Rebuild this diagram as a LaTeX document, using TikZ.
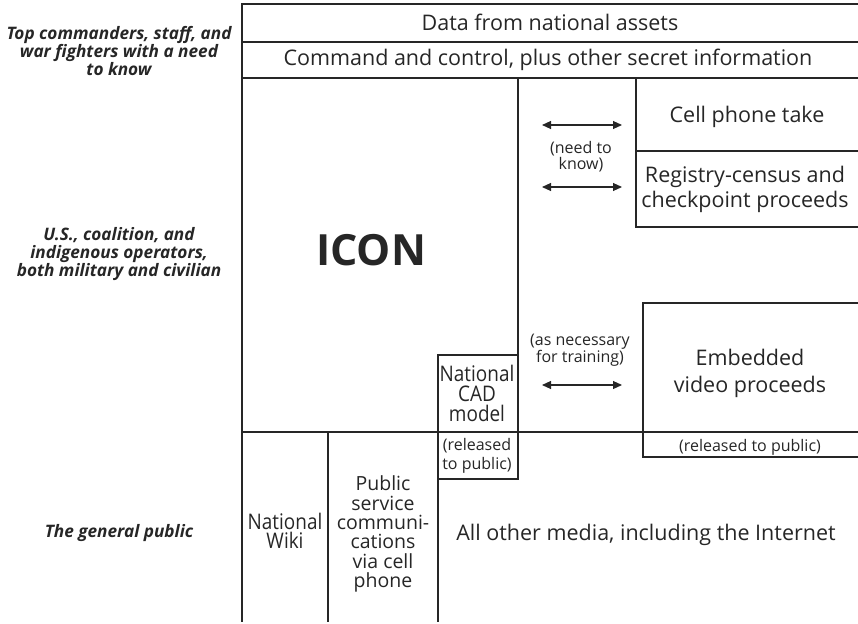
\documentclass[tikz,border=0pt]{standalone}
\usepackage{fontspec}
\setmainfont{Open Sans}
\newfontfamily\narrowfont[FakeStretch=0.88]{Open Sans}
\usetikzlibrary{arrows.meta}
\newcommand{\fs}[2]{\fontsize{#1}{#2}\selectfont\lineskiplimit=-20pt }
\tikzset{
  ln/.style={line width=1.1pt, black!85},
  lbl/.style={font=\fs{21.5}{19.5}, align=center, inner sep=0pt, text=black!85},
  sml/.style={font=\fs{16}{16}, align=center, inner sep=0pt, text=black!85},
  side/.style={font=\fs{17.2}{18}\bfseries\itshape, align=center, inner sep=0pt, text=black!85},
  dbl/.style={line width=1.1pt, black!85, {Triangle[length=9pt,width=8pt]}-{Triangle[length=9pt,width=8pt]}}
}
\begin{document}
\begin{tikzpicture}[x=1pt,y=-1pt]
\useasboundingbox (0,0) rectangle (858,623);
% frame lines
\draw[ln] (858,4) -- (242,4) -- (242,622);
\draw[ln] (242,42) -- (858,42);
\draw[ln] (242,78) -- (858,78);
\draw[ln] (518,78) -- (518,479) -- (438,479);
\draw[ln] (636,78) -- (636,227) -- (858,227);
\draw[ln] (636,151) -- (858,151);
\draw[ln] (858,303) -- (643,303) -- (643,457) -- (858,457);
\draw[ln] (242,432) -- (858,432);
\draw[ln] (518,355) -- (438,355) -- (438,622);
\draw[ln] (328,432) -- (328,622);
% side labels
\node[side] (top) at (119,51) {Top commanders, staff, and\\war fighters with a need\\to know};
\node[side] (mid) at (119,254) {U.S., coalition, and\\indigenous operators,\\both military and civilian};
\node[side] (pub) at (119,533) {The general public};
% texts
\node[lbl] (data) at (550,22) {Data from national assets};
\node[lbl] (cmd) at (548,60) {Command and control, plus other secret information};
\node[font=\fontsize{43}{46}\selectfont\bfseries, inner sep=0pt, text=black!85] (icon) at (371,250) {ICON};
\node[lbl] (cell) at (747,117) {Cell phone take};
\node[lbl, font=\fs{21.5}{25}] (reg) at (745,189) {Registry-census and\\checkpoint proceeds};
\node[sml] (need) at (581,157) {(need to\\know)};
\node[sml, font=\fs{16}{17}] (asnec) at (580,350) {(as necessary\\for training)};
\node[lbl, font=\fs{21.5}{27}] (emb) at (750,373) {Embedded\\video proceeds};
\node[sml] (rel1) at (750,447) {(released to public)};
\node[lbl, font=\narrowfont\fs{21.5}{20}] (cad) at (477,393) {National\\CAD\\model};
\node[sml, font=\fs{16}{19}] (rel2) at (477,456) {(released\\to public)};
\node[lbl, font=\narrowfont\fs{21.5}{19.5}] (wiki) at (285,531) {National\\Wiki};
\node[lbl, font=\fs{19.5}{19.3}] (psc) at (383,534) {Public\\service\\communi-\\cations\\via cell\\phone};
\node[lbl] (all) at (646,535) {All other media, including the Internet};
% arrows
\coordinate (a1l) at (542,125); \coordinate (a1r) at (622,125);
\coordinate (a2l) at (542,187); \coordinate (a2r) at (622,187);
\coordinate (a3l) at (542,385); \coordinate (a3r) at (622,385);
\draw[dbl] (a1l) -- (a1r);
\draw[dbl] (a2l) -- (a2r);
\draw[dbl] (a3l) -- (a3r);
\end{tikzpicture}
\end{document}
